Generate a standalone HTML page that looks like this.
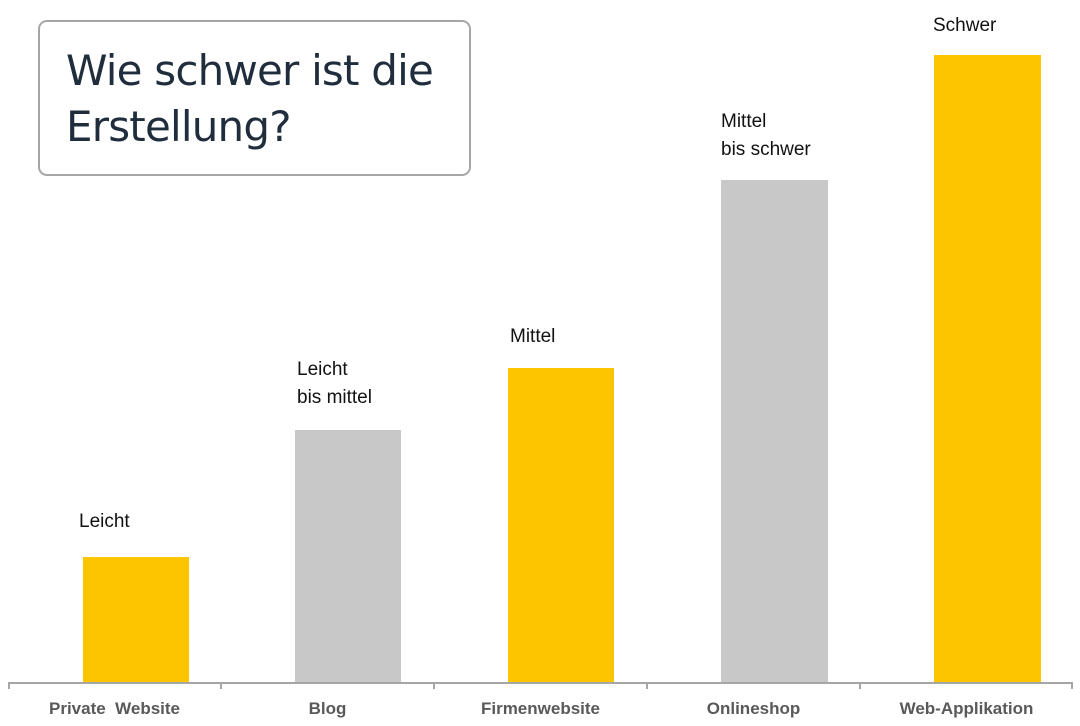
<!DOCTYPE html>
<html><head><meta charset="utf-8"><style>
body{margin:0;width:1080px;height:726px;background:#fff;position:relative;overflow:hidden;font-family:"Liberation Sans","DejaVu Sans",sans-serif}
.bar{position:absolute;bottom:43px}
.y{background:#fdc500}.g{background:#c8c8c8}
.lab{position:absolute;font-size:19px;color:#111;line-height:28px}
.cat{position:absolute;top:699px;width:213px;text-align:center;font-weight:bold;font-size:17px;color:#595959}
</style></head><body>
<div style="position:absolute;left:38px;top:20px;width:429px;height:152px;border:2px solid #a6a6a6;border-radius:9px"></div>
<div style="position:absolute;left:66px;top:43px;font-size:42px;line-height:56px;color:#1f2d3d;font-family:'DejaVu Sans',sans-serif;letter-spacing:-0.8px">Wie schwer ist die<br>Erstellung?</div>
<div class="bar y" style="left:83px;width:106px;height:126px"></div>
<div class="bar g" style="left:295px;width:106px;height:253px"></div>
<div class="bar y" style="left:508px;width:106px;height:315px"></div>
<div class="bar g" style="left:721px;width:107px;height:503px"></div>
<div class="bar y" style="left:934px;width:107px;height:628px"></div>
<div class="lab" style="left:79px;top:508px">Leicht</div>
<div class="lab" style="left:297px;top:356px">Leicht<br>bis mittel</div>
<div class="lab" style="left:510px;top:323px">Mittel</div>
<div class="lab" style="left:721px;top:108px">Mittel<br>bis schwer</div>
<div class="lab" style="left:933px;top:12px">Schwer</div>
<div style="position:absolute;left:8px;top:682px;width:1064px;height:2px;background:#a6a6a6"></div>
<div style="position:absolute;left:8px;top:682px;width:2px;height:7px;background:#a6a6a6"></div>
<div style="position:absolute;left:220px;top:682px;width:2px;height:7px;background:#a6a6a6"></div>
<div style="position:absolute;left:433px;top:682px;width:2px;height:7px;background:#a6a6a6"></div>
<div style="position:absolute;left:646px;top:682px;width:2px;height:7px;background:#a6a6a6"></div>
<div style="position:absolute;left:859px;top:682px;width:2px;height:7px;background:#a6a6a6"></div>
<div style="position:absolute;left:1071px;top:682px;width:2px;height:7px;background:#a6a6a6"></div>
<div class="cat" style="left:8px">Private&nbsp; Website</div>
<div class="cat" style="left:221px">Blog</div>
<div class="cat" style="left:434px">Firmenwebsite</div>
<div class="cat" style="left:647px">Onlineshop</div>
<div class="cat" style="left:860px">Web-Applikation</div>
</body></html>
